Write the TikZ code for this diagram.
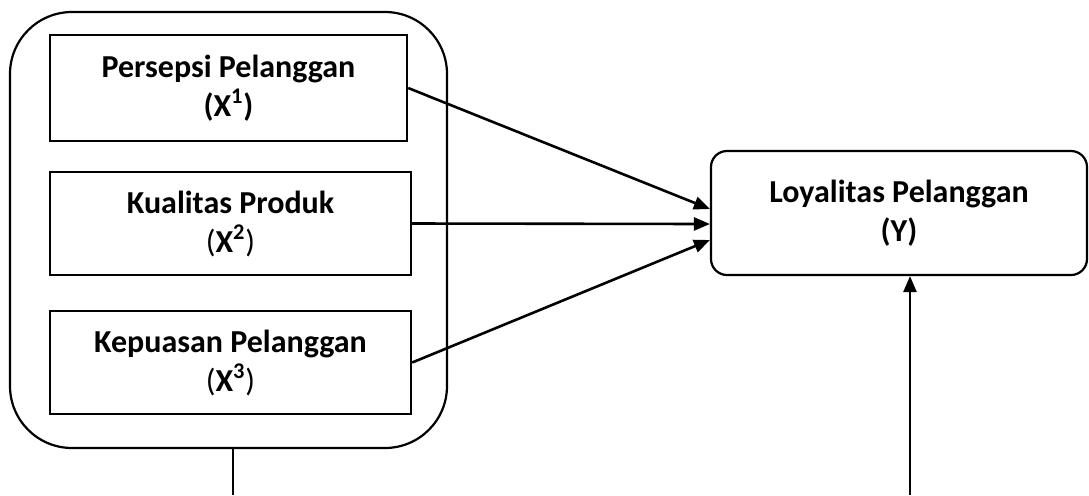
\documentclass[tikz,border=0pt]{standalone}
\usepackage{fontspec}
\setmainfont{Carlito}
\usetikzlibrary{arrows.meta, calc}

\tikzset{
  varbox/.style = {draw=black, line width=1.2pt, align=center,
    font=\fontsize{16pt}{19.5pt}\selectfont\bfseries},
  outerbox/.style = {draw=black, line width=1.1pt, rounded corners=31pt,
    minimum width=218.5pt, minimum height=218pt},
  arrowline/.style = {line width=1.3pt, -{Triangle[length=8pt,width=6.5pt]}}
}

\begin{document}
\begin{tikzpicture}[x = 0.5pt, y = -0.5pt]

  \useasboundingbox (0,0) rectangle (1089,495);

  \node[outerbox] (outer) at (228.5, 230) {};

  \node[varbox, minimum width=178.5pt, minimum height=53pt] (persepsi) at (228.5, 88)
    {Persepsi Pelanggan\\(X\textsuperscript{1})};
  \node[varbox, minimum width=180.5pt, minimum height=51.5pt] (kualitas) at (230.5, 223.5)
    {Kualitas Produk\\\textmd{(}X\textsuperscript{2}\textmd{)}};
  \node[varbox, minimum width=180.5pt, minimum height=51.5pt] (kepuasan) at (230.5, 362.5)
    {Kepuasan Pelanggan\\\textmd{(}X\textsuperscript{3}\textmd{)}};

  \node[varbox, line width=1.1pt, rounded corners=8pt, minimum width=188pt,
    minimum height=62pt] (loyalitas) at (899, 213)
    {Loyalitas Pelanggan\\(Y)};

  \draw[arrowline] (persepsi.east) -- ($(loyalitas.west)+(0,-4)$);
  \draw[arrowline] (kualitas.east) -- ($(loyalitas.west)+(0,11)$);
  \draw[arrowline] (kepuasan.east) -- ($(loyalitas.west)+(0,27)$);

  \coordinate (outerfoot) at (233, 495);
  \coordinate (loyfoot) at (910, 495);
  \draw[line width=1.2pt] (outer.south -| outerfoot) -- (outerfoot);
  \draw[arrowline] (loyfoot) -- (loyfoot |- loyalitas.south);

\end{tikzpicture}
\end{document}
